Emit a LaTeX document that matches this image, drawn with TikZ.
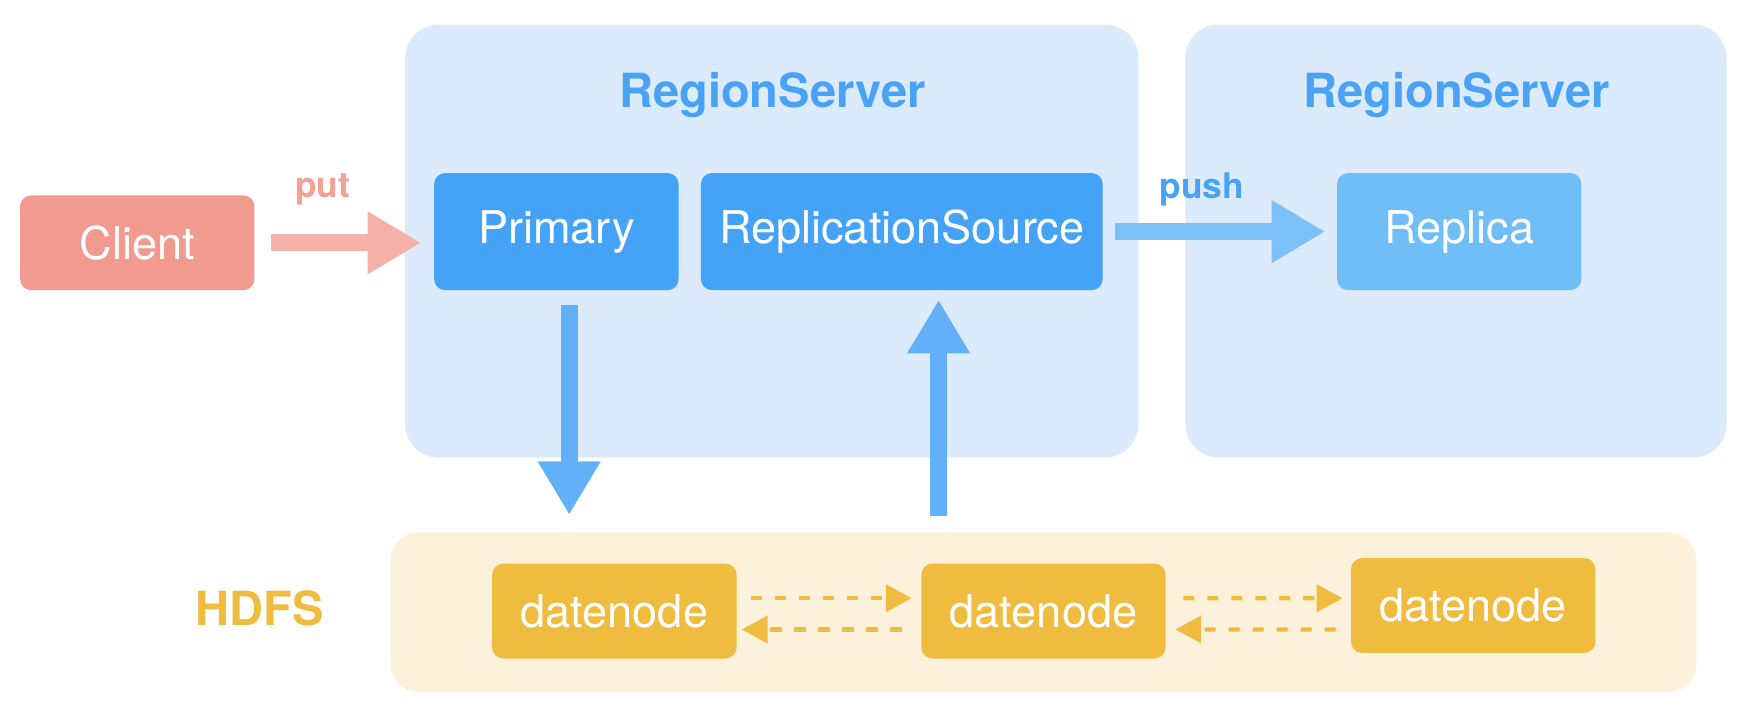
\documentclass[tikz,border=0pt]{standalone}
\usepackage{fontspec}
\setmainfont{TeX Gyre Heros}
\usetikzlibrary{arrows.meta}
\definecolor{rsback}{HTML}{DBEBFC}
\definecolor{titleblue}{HTML}{4AA2F4}
\definecolor{srvblue}{HTML}{45A3F7}
\definecolor{replblue}{HTML}{6FBEF7}
\definecolor{pushblue}{HTML}{7BC0F7}
\definecolor{flowblue}{HTML}{62B0F7}
\definecolor{clientred}{HTML}{F19A8F}
\definecolor{putred}{HTML}{F5B1A9}
\definecolor{puttext}{HTML}{F2A196}
\definecolor{hdfsback}{HTML}{FCF1DA}
\definecolor{dnyellow}{HTML}{EFBC40}
\begin{document}
\begin{tikzpicture}[x=0.1mm, y=-0.1mm,
  every node/.style={font=\fontsize{11.5}{13}\selectfont, text=white, inner sep=0pt},
  rsbox/.style={fill=rsback, rounded corners=3mm, minimum width=65.7mm, minimum height=38.8mm},
  srvbox/.style={fill=srvblue, rounded corners=1mm, minimum width=21.9mm, minimum height=10.5mm},
  dnbox/.style={fill=dnyellow, rounded corners=1mm, minimum width=21.9mm, minimum height=8.5mm},
  title/.style={text=titleblue, font=\fontsize{12}{14}\selectfont\bfseries},
  fat/.style={line width=1.55mm, -{Triangle[length=4.8mm,width=5.3mm]}},
  dasharrow/.style={draw=dnyellow, line width=0.4mm, dash pattern=on 1mm off 1.15mm, -{Triangle[length=2.3mm,width=2.4mm]}}]
\useasboundingbox (0,0) rectangle (1568,642);
\node[rsbox] (RS1) at (691.5,216) {};
\node[rsbox, minimum width=48.5mm] (RS2) at (1304.5,216) {};
\node[fill=hdfsback, rounded corners=2.5mm, minimum width=117mm, minimum height=14.3mm] (hdfs) at (935,548.5) {};
\node[title] (RS1title) at (692,85) {RegionServer};
\node[title] (RS2title) at (1305,85) {RegionServer};
\node[title, text=dnyellow] (hdfslabel) at (233,545) {HDFS};
\node[fill=clientred, rounded corners=1mm, minimum width=21mm, minimum height=8.5mm] (client) at (123,217.5) {Client};
\node[srvbox] (primary) at (498.5,207.5) {Primary};
\node[srvbox, minimum width=36mm] (source) at (808,207.5) {ReplicationSource};
\node[srvbox, fill=replblue] (replica) at (1307.5,207.5) {Replica};
\node[dnbox] (dn1) at (550.5,547.5) {datenode};
\node[dnbox] (dn2) at (935,547.5) {datenode};
\node[dnbox] (dn3) at (1320,542.5) {datenode};
\node[text=puttext, font=\fontsize{9}{11}\selectfont\bfseries] (putlabel) at (289,170) {put};
\node[text=titleblue, font=\fontsize{9}{11}\selectfont\bfseries] (pushlabel) at (1077,170) {push};
\draw[fat, draw=putred, shorten <=1.4mm, shorten >=1.1mm] (client.east) -- (client.east -| primary.west);
\draw[fat, draw=pushblue, shorten <=1mm, shorten >=1mm] (source) -- (replica);
\draw[fat, draw=flowblue, shorten <=1.3mm, shorten >=1.5mm] ([xshift=1.15mm]primary.south) -- ([xshift=1.15mm]primary.south |- hdfs.north);
\draw[fat, draw=flowblue, shorten <=1.4mm, shorten >=0.8mm] ([xshift=3.3mm]source.south |- hdfs.north) -- ([xshift=3.3mm]source.south);
\draw[dasharrow] ([xshift=1.2mm,yshift=1.15mm]dn1.east) -- ([xshift=-0.8mm,yshift=1.15mm]dn2.west);
\draw[dasharrow] ([xshift=-1.7mm,yshift=-1.65mm]dn2.west) -- ([xshift=0.4mm,yshift=-1.65mm]dn1.east);
\draw[dasharrow] ([xshift=1.5mm,yshift=1.15mm]dn2.east) -- ([xshift=-0.7mm,yshift=0.65mm]dn3.west);
\draw[dasharrow] ([xshift=-1.3mm,yshift=-2.15mm]dn3.west) -- ([xshift=0.8mm,yshift=-1.65mm]dn2.east);
\end{tikzpicture}
\end{document}
